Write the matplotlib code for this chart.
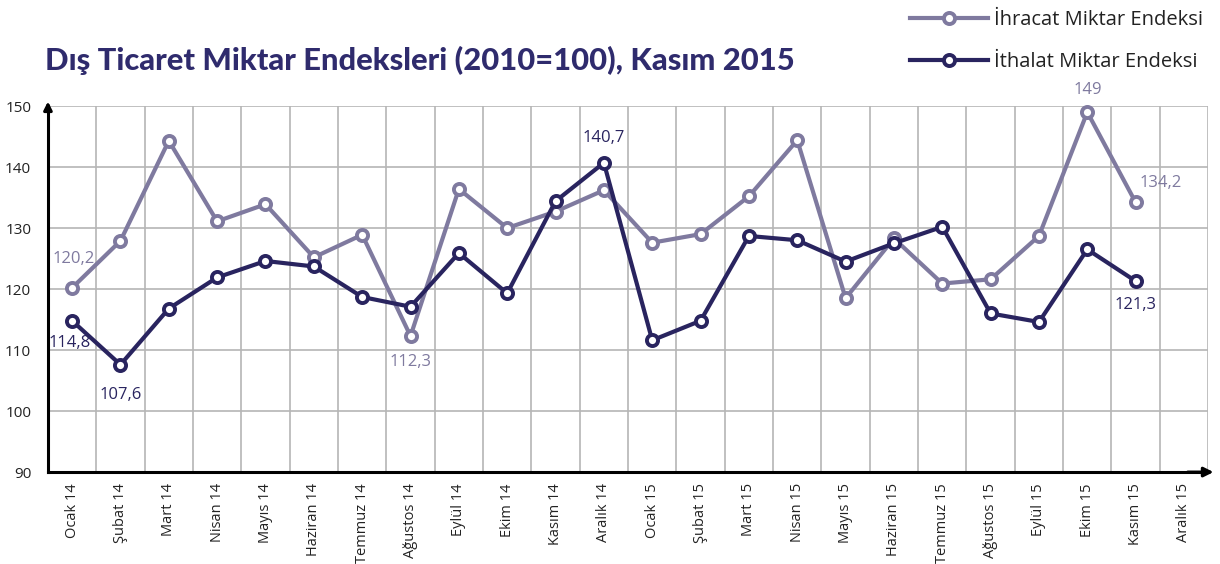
import matplotlib.pyplot as plt
import numpy as np

# Months on the x axis (Dec 15 has no data yet)
months = ["Ocak 14", "Şubat 14", "Mart 14", "Nisan 14", "Mayıs 14", "Haziran 14",
          "Temmuz 14", "Ağustos 14", "Eylül 14", "Ekim 14", "Kasım 14", "Aralık 14",
          "Ocak 15", "Şubat 15", "Mart 15", "Nisan 15", "Mayıs 15", "Haziran 15",
          "Temmuz 15", "Ağustos 15", "Eylül 15", "Ekim 15", "Kasım 15", "Aralık 15"]

ihracat = [120.2, 127.9, 144.3, 131.1, 133.9, 125.2, 128.9, 112.3, 136.4, 130.0,
           132.7, 136.2, 127.6, 129.0, 135.2, 144.4, 118.5, 128.3, 120.9, 121.6,
           128.7, 149.0, 134.2]
ithalat = [114.8, 107.6, 116.8, 121.9, 124.6, 123.7, 118.7, 117.1, 125.9, 119.3,
           134.4, 140.7, 111.6, 114.8, 128.7, 128.0, 124.5, 127.5, 130.2, 116.0,
           114.6, 126.5, 121.3]

yticks = [90, 100, 110, 120, 130, 140, 150]

LIGHT = "#7f7a9f"
DARK = "#29245f"
TITLE = "#2f2b6d"

plt.rcParams['font.family'] = ['Open Sans', 'DejaVu Sans']

fig = plt.figure(figsize=(12.2, 5.64), dpi=100)
ax = fig.add_axes([0.0393, 0.163, 0.951, 0.649])

x = np.arange(len(months))
ax.set_xlim(-0.5, len(months) - 0.5)
ax.set_ylim(90, 150)

# grid
ax.set_yticks(yticks)
ax.set_yticklabels([str(v) for v in yticks], fontsize=11, color="#222222")
ax.set_xticks(x)
ax.set_xticklabels(months, rotation=90, fontsize=10.5, color="#222222")
ax.set_xticks(x + 0.5, minor=True)
ax.tick_params(axis="both", which="both", length=0)
ax.tick_params(axis="y", pad=12)
ax.tick_params(axis="x", pad=8)
ax.grid(axis="y", which="major", color="#b5b5b5", linewidth=1.2)
ax.grid(axis="x", which="minor", color="#b5b5b5", linewidth=1.2)
ax.set_axisbelow(True)

for s in ["top", "right"]:
    ax.spines[s].set_visible(False)
for s in ["left", "bottom"]:
    ax.spines[s].set_linewidth(2.2)
    ax.spines[s].set_color("black")

# axis arrows
ax.annotate("", xy=(0, 1.02), xytext=(0, 0.98), xycoords="axes fraction",
            arrowprops=dict(arrowstyle="-|>", color="black", lw=2.2, mutation_scale=12))
ax.annotate("", xy=(1.007, 0), xytext=(0.98, 0), xycoords="axes fraction",
            arrowprops=dict(arrowstyle="-|>", color="black", lw=2.2, mutation_scale=14))

mk = dict(marker="o", markersize=8, markerfacecolor="white", markeredgewidth=2.8)
ax.plot(x[:len(ihracat)], ihracat, color=LIGHT, lw=3, markeredgecolor=LIGHT,
        label="İhracat Miktar Endeksi", clip_on=False, zorder=3, **mk)
ax.plot(x[:len(ithalat)], ithalat, color=DARK, lw=3, markeredgecolor=DARK,
        label="İthalat Miktar Endeksi", clip_on=False, zorder=4, **mk)

# data labels
fs = 12
def lab(i, series, color, dx, dy, ha="center", va="center"):
    ax.annotate(f"{series[i]:g}".replace(".", ","), (x[i], series[i]),
                xytext=(dx, dy), textcoords="offset points",
                ha=ha, va=va, fontsize=fs, color=color)

lab(0, ihracat, LIGHT, 1, 21)
lab(7, ihracat, LIGHT, 0, -19)
lab(21, ihracat, LIGHT, 0, 16)
lab(22, ihracat, LIGHT, 18, 14)
lab(0, ithalat, DARK, -2, -16)
lab(1, ithalat, DARK, 0, -22)
lab(11, ithalat, DARK, 0, 18)
lab(22, ithalat, DARK, 0, -17)

fig.text(0.037, 0.893, "Dış Ticaret Miktar Endeksleri (2010=100), Kasım 2015",
         fontsize=22.2, fontweight="black", color=TITLE, family=["Lato", "DejaVu Sans"],
         va="center")

fig.legend(loc="upper right", bbox_to_anchor=(1.001, 1.015), frameon=False,
           fontsize=14.5, handlelength=3.9, labelspacing=1.1, handletextpad=0.3,
           labelcolor="#222222")

fig.savefig("out.png", dpi=100)
